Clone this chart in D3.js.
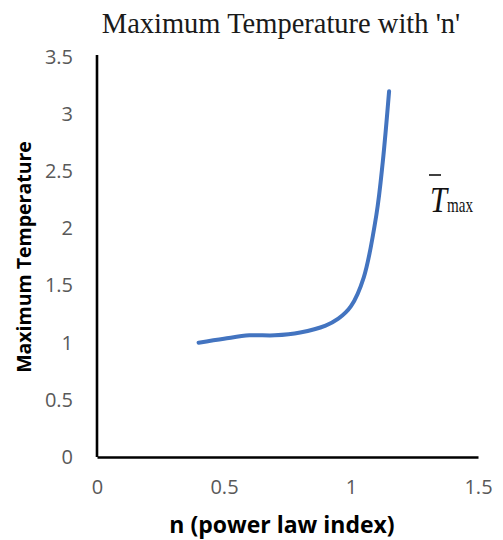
<!DOCTYPE html>
<html>
<head>
<meta charset="utf-8">
<script src="https://cdn.jsdelivr.net/npm/d3@7"></script>
<style>
  html, body { margin: 0; padding: 0; background: #fff; }
  svg { display: block; }
</style>
</head>
<body>
<svg id="chart" width="503" height="540"></svg>
<script>
// Power law index n and the corresponding dimensionless maximum temperature
const nValues = [0.4, 0.5, 0.6, 0.7, 0.8, 0.9, 0.95, 1.0, 1.05, 1.1, 1.125, 1.15];
const tMaxValues = [1.0, 1.035, 1.065, 1.065, 1.09, 1.15, 1.21, 1.32, 1.57, 2.12, 2.58, 3.2];

const xTicks = [0, 0.5, 1, 1.5];
const yTicks = [0, 0.5, 1, 1.5, 2, 2.5, 3, 3.5];

const titleText = "Maximum Temperature with 'n'";
const xLabel = "n (power law index)";
const yLabel = "Maximum Temperature";

const svg = d3.select("#chart");

const x = d3.scaleLinear().domain([0, 1.5]).range([97, 478]);
const y = d3.scaleLinear().domain([0, 3.5]).range([457, 57]);

const tickFont = "'Open Sans', sans-serif";
const tickColor = "#595959";

// X axis
const gx = svg.append("g")
  .attr("transform", `translate(0,${y(0)})`)
  .call(d3.axisBottom(x).tickValues(xTicks).tickFormat(d3.format("")).tickSize(0).tickPadding(23));
gx.select(".domain").attr("stroke", "#000").attr("stroke-width", 2.6);
gx.selectAll("text").attr("font-family", tickFont).attr("font-size", 20).attr("fill", tickColor);

// Y axis
const gy = svg.append("g")
  .attr("transform", `translate(${x(0)},0)`)
  .call(d3.axisLeft(y).tickValues(yTicks).tickFormat(d3.format("")).tickSize(0).tickPadding(24));
gy.select(".domain").attr("stroke", "#000").attr("stroke-width", 2.6)
  .attr("d", `M0,${y(3.5) - 2}V${y(0)}`);
gy.selectAll("text").attr("font-family", tickFont).attr("font-size", 20).attr("fill", tickColor);

// Temperature curve
const data = nValues.map((n, i) => ({ n, t: tMaxValues[i] }));
const line = d3.line()
  .x(d => x(d.n))
  .y(d => y(d.t))
  .curve(d3.curveCatmullRom.alpha(0.5));

svg.append("path")
  .datum(data)
  .attr("fill", "none")
  .attr("stroke", "#4374C0")
  .attr("stroke-width", 4)
  .attr("stroke-linecap", "round")
  .attr("d", line);

// Title
svg.append("text")
  .attr("x", 281)
  .attr("y", 33)
  .attr("text-anchor", "middle")
  .attr("font-family", "'Liberation Serif', 'Times New Roman', serif")
  .attr("font-size", 28.5)
  .attr("fill", "#1a1a1a")
  .text(titleText);

// Axis titles
svg.append("text")
  .attr("x", 282)
  .attr("y", 533)
  .attr("text-anchor", "middle")
  .attr("font-family", "'Open Sans', sans-serif")
  .attr("font-weight", "bold")
  .attr("font-size", 23)
  .attr("fill", "#000")
  .text(xLabel);

svg.append("text")
  .attr("transform", `translate(31,257) rotate(-90)`)
  .attr("text-anchor", "middle")
  .attr("font-family", "'Open Sans', sans-serif")
  .attr("font-weight", "bold")
  .attr("font-size", 19.5)
  .attr("fill", "#000")
  .text(yLabel);

// Series label: T-bar with subscript "max"
const leg = svg.append("g").attr("font-family", "'Liberation Serif', 'Times New Roman', serif").attr("fill", "#111");
leg.append("text")
  .attr("transform", "translate(430,212) scale(0.85,1)")
  .attr("font-style", "italic")
  .attr("font-size", 36)
  .text("T");
leg.append("line")
  .attr("x1", 429).attr("x2", 441)
  .attr("y1", 175).attr("y2", 175)
  .attr("stroke", "#111").attr("stroke-width", 1.6);
leg.append("text")
  .attr("x", 447)
  .attr("y", 212)
  .attr("font-size", 21)
  .attr("textLength", 26)
  .attr("lengthAdjust", "spacingAndGlyphs")
  .text("max");
</script>
</body>
</html>
